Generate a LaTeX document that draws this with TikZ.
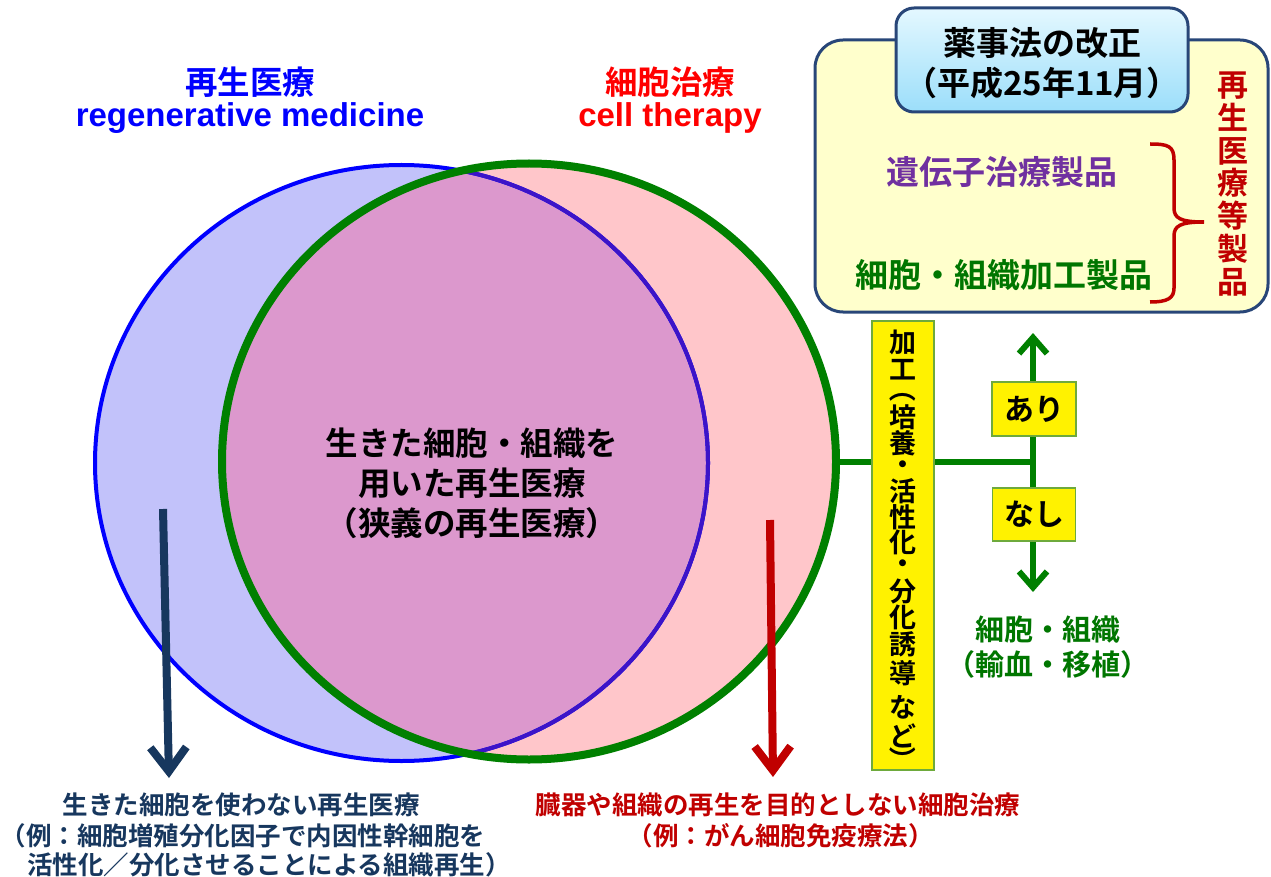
\documentclass[tikz,border=0pt]{standalone}
\usepackage{fontspec}
\setmainfont{Noto Sans CJK JP}[BoldFont={Noto Sans CJK JP Bold}]
\newfontfamily\arialfam{Liberation Sans}
\usetikzlibrary{arrows.meta,shapes.geometric}
\definecolor{bluefill}{RGB}{194,194,250}
\definecolor{redfill}{RGB}{255,198,202}
\definecolor{ovfill}{RGB}{220,152,205}
\definecolor{dgreen}{RGB}{0,128,0}
\definecolor{tgreen}{RGB}{0,118,0}
\definecolor{navy}{RGB}{23,55,94}
\definecolor{dred}{RGB}{192,0,0}
\definecolor{purp}{RGB}{112,48,160}
\definecolor{boxblue}{RGB}{40,70,120}
\definecolor{lyellow}{RGB}{255,255,204}
\definecolor{ltop}{RGB}{228,248,255}
\definecolor{lbot}{RGB}{155,222,250}
\definecolor{boxgreen}{RGB}{110,170,60}
\definecolor{inblue}{RGB}{60,20,200}
\tikzset{
  jpf/.style={font=\fontsize{#1}{#1}\selectfont\bfseries},
  gline/.style={draw=dgreen, line width=6pt},
  garrow/.style={gline, -{Straight Barb[length=16pt,width=28pt]}},
  bigarrow/.style={line width=8pt, -{Straight Barb[length=24pt,width=36pt]}},
  ybox/.style={draw=boxgreen, fill=yellow, line width=1.5pt},
}
\begin{document}
\begin{tikzpicture}[x=1pt,y=-1pt, every node/.style={inner sep=0pt}]
\useasboundingbox (0,0) rectangle (1271,877);
% circle fills
\fill[bluefill] (401.5,463) ellipse [x radius=306.5, y radius=298];
\fill[redfill] (529,461.5) ellipse [x radius=307, y radius=298];
\begin{scope}
  \clip (401.5,463) ellipse [x radius=306.5, y radius=298];
  \fill[ovfill] (529,461.5) ellipse [x radius=307, y radius=298];
\end{scope}
\node[draw=blue, line width=4pt, ellipse, minimum width=613pt, minimum height=596pt] (bc) at (401.5,463) {};
\begin{scope}
  \clip (529,461.5) ellipse [x radius=307, y radius=298];
  \draw[inblue, line width=4pt] (401.5,463) ellipse [x radius=306.5, y radius=298];
\end{scope}
\node[draw=dgreen, line width=8pt, ellipse, minimum width=614pt, minimum height=596pt] (gc) at (529,461.5) {};

% titles
\node[text=blue, jpf=32.5] (t1) at (250,82) {再生医療};
\node[text=blue, font=\arialfam\fontsize{33}{33}\selectfont\bfseries] (t2) at (250,118) {regenerative medicine};
\node[text=red, jpf=32.5] (t3) at (670,82) {細胞治療};
\node[text=red, font=\arialfam\fontsize{33}{33}\selectfont\bfseries] (t4) at (670,118) {cell therapy};

% centre text
\node[align=center, font=\fontsize{32.5}{40}\selectfont\bfseries] (ctr) at (472,483) {生きた細胞・組織を\\用いた再生医療\\（狭義の再生医療）};

% law box
\node[draw=boxblue, line width=3pt, fill=lyellow, rounded corners=28pt, minimum width=453pt, minimum height=272pt] (law) at (1041.5,176) {};
\node[draw=boxblue, line width=3pt, top color=ltop, bottom color=lbot, rounded corners=18pt, minimum width=292pt, minimum height=104pt] (lawt) at (1042,60) {};
\node[align=center, font=\fontsize{33}{40}\selectfont\bfseries] (lawtxt) at (1042,63) {薬事法の改正\\（平成25年11月）};
\node[text=purp, jpf=33] (gene) at (1002,172) {遺伝子治療製品};
\node[text=tgreen, jpf=33] (cell) at (1004,275) {細胞・組織加工製品};
\draw[dred, line width=3.5pt] (1150,144) .. controls (1168,144) and (1174,146) .. (1174,160) -- (1174,208) .. controls (1174,218) and (1180,222) .. (1204,222) .. controls (1180,222) and (1174,226) .. (1174,236) -- (1174,288) .. controls (1174,298) and (1168,302) .. (1150,302);
\node[align=center, text=dred, font=\fontsize{31}{32.7}\selectfont\bfseries] (vred) at (1233,184) {再\\生\\医\\療\\等\\製\\品};

% processing box and branches
\node[ybox, minimum width=62pt, minimum height=449pt] (proc) at (903,545.5) {};
\foreach \c/\yy [count=\i] in {加/342, 工/370, 培/417, 養/443, ・/468, 活/491, 性/517, 化/542, ・/567, 分/591, 化/617, 誘/644, 導/673, な/707, ど/736}
  \node[jpf=27] (pc\i) at (903,\yy) {\c};
\node[jpf=27, rotate=-90] (pcl) at (903,389) {（};
\node[jpf=27, rotate=-90] (pcr) at (903,760) {）};
\coordinate (jn) at (1033,462);
\coordinate (up) at (1033,333);
\coordinate (dn) at (1033,592);
\draw[gline] (gc.east) -- (gc.east -| proc.west);
\draw[gline] (proc.east |- jn) -- (jn);
\draw[garrow] (jn) -- (up);
\draw[garrow] (jn) -- (dn);
\node[ybox, minimum width=84pt, minimum height=54pt, jpf=30] (ari) at (1034,409) {あり};
\node[ybox, minimum width=83pt, minimum height=53pt, jpf=30] (nasi) at (1034,514.5) {なし};
\node[text=tgreen, align=center, font=\fontsize{29}{35}\selectfont\bfseries] (tx) at (1048,647.5) {細胞・組織\\（輸血・移植）};

% down arrows
\coordinate (na1) at (163,509);
\coordinate (na2) at (169,778);
\draw[navy, bigarrow] (na1) -- (na2);
\coordinate (ra1) at (770,520);
\coordinate (ra2) at (773,777);
\draw[dred, bigarrow] (ra1) -- (ra2);

% bottom texts
\node[text=navy, jpf=25.5] (bl1) at (241,805) {生きた細胞を使わない再生医療};
\node[text=navy, jpf=25.5] (bl2) at (243,836) {（例：細胞増殖分化因子で内因性幹細胞を};
\node[text=navy, jpf=25.5] (bl3) at (269,865) {活性化／分化させることによる組織再生）};
\node[text=dred, jpf=25.5] (br1) at (778,805) {臓器や組織の再生を目的としない細胞治療};
\node[text=dred, jpf=25.5] (br2) at (780.5,836) {（例：がん細胞免疫療法）};
\end{tikzpicture}
\end{document}
